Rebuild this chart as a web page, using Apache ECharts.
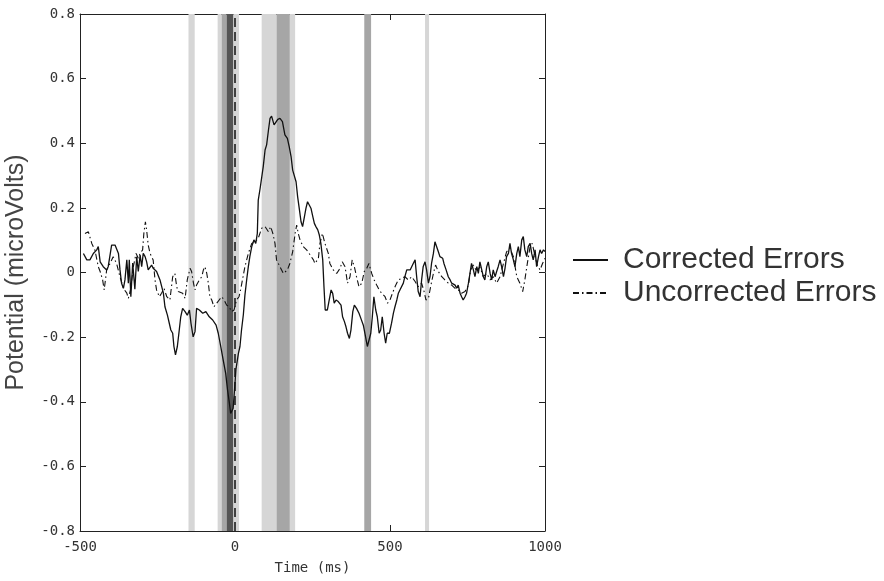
<!DOCTYPE html>
<html>
<head>
<meta charset="utf-8">
<script src="https://cdn.jsdelivr.net/npm/echarts@6/dist/echarts.min.js"></script>
<style>html,body{margin:0;padding:0;background:#fff;}#c{width:884px;height:581px;}</style>
</head>
<body>
<div id="c"></div>
<script>
const seriesNames = ['Corrected Errors', 'Uncorrected Errors'];
const xTicks = [-500, 0, 500, 1000];
const yTicks = [-0.8, -0.6, -0.4, -0.2, 0, 0.2, 0.4, 0.6, 0.8];

const correctedT = [-489,-478,-468,-457,-446,-441,-435,-425,-414,-409,-398,-387,-382,-376,-371,-366,-360,-355,-349,-344,-341,-336,-330,-323,-317,-312,-306,-301,-296,-290,-285,-280,-274,-269,-264,-253,-242,-231,-226,-218,-212,-207,-201,-197,-192,-186,-181,-175,-169,-161,-154,-147,-142,-135,-129,-124,-115,-104,-94,-83,-72,-61,-54,-46,-38,-30,-24,-18,-14,-10,-6,-2,3,11,16,21,27,32,38,43,48,54,61,67,72,75,81,86,91,97,102,108,113,118,126,131,138,145,153,161,169,175,181,186,191,197,202,208,213,218,224,229,234,240,245,251,256,261,267,272,277,283,287,291,298,304,310,315,320,326,333,342,347,353,358,363,369,374,380,385,392,400,406,414,420,427,432,438,443,448,454,459,465,470,475,481,486,491,498,505,511,516,522,527,532,538,543,548,554,559,565,570,575,581,586,591,597,602,607,613,618,624,629,634,640,645,651,656,661,670,674,681,688,694,699,704,710,715,720,726,731,736,742,747,753,758,763,769,774,780,785,790,796,801,806,812,817,823,828,833,839,844,849,855,860,866,871,876,882,887,892,898,903,909,914,919,925,930,935,941,946,952,957,962,968,973,979,984,989,995,1000];
const correctedV = [0.059,0.039,0.039,0.059,0.070,0.080,0.033,0.018,0.008,0.018,0.085,0.085,0.080,0.059,0.008,-0.033,-0.049,-0.023,0.039,-0.033,0.039,-0.075,0.029,-0.052,0.049,0.003,0.054,0.018,0.059,0.049,0.033,0.008,0.013,0.023,0.013,0.003,-0.023,-0.064,-0.106,-0.132,-0.157,-0.178,-0.188,-0.229,-0.255,-0.229,-0.188,-0.137,-0.111,-0.121,-0.132,-0.116,-0.157,-0.199,-0.183,-0.111,-0.116,-0.126,-0.121,-0.137,-0.147,-0.163,-0.188,-0.229,-0.271,-0.312,-0.364,-0.405,-0.436,-0.44,-0.42,-0.37,-0.30,-0.25,-0.229,-0.178,-0.13,-0.07,-0.02,0.018,0.05,0.080,0.101,0.090,0.121,0.224,0.260,0.265,0.327,0.379,0.395,0.441,0.477,0.484,0.457,0.46,0.474,0.477,0.467,0.426,0.415,0.389,0.358,0.317,0.322,0.281,0.235,0.193,0.157,0.142,0.173,0.199,0.219,0.219,0.199,0.173,0.152,0.142,0.132,0.116,0.09,0.039,-0.044,-0.116,-0.116,-0.085,-0.054,-0.064,-0.095,-0.085,-0.090,-0.101,-0.137,-0.152,-0.168,-0.188,-0.204,-0.178,-0.121,-0.101,-0.111,-0.126,-0.142,-0.163,-0.193,-0.229,-0.229,-0.188,-0.137,-0.075,-0.116,-0.137,-0.188,-0.178,-0.137,-0.188,-0.219,-0.188,-0.188,-0.157,-0.126,-0.106,-0.085,-0.064,-0.054,-0.049,-0.033,-0.013,0.008,0.013,0.008,0.018,0.028,0.039,-0.013,-0.059,-0.075,-0.023,0.018,0.033,0.008,-0.033,-0.013,0.028,0.059,0.095,0.095,0.064,0.049,0.044,0.028,0.008,-0.013,-0.023,-0.033,-0.028,-0.039,-0.049,-0.039,-0.064,-0.075,-0.085,-0.075,-0.064,-0.033,-0.003,0.028,0.008,-0.013,0.018,-0.003,0.033,0.008,-0.013,-0.023,0.018,0.033,-0.003,-0.023,0.008,-0.013,0.003,0.018,0.039,0.018,-0.013,0.013,0.049,0.059,0.090,0.059,0.039,0.018,0.059,0.080,0.049,0.101,0.111,0.070,0.049,0.080,0.090,0.059,0.039,0.070,0.018,0.049,0.070,0.059,0.070,0.065];

const uncorrectedT = [-484,-473,-462,-452,-441,-435,-427,-422,-414,-403,-393,-382,-371,-360,-349,-344,-336,-328,-319,-312,-306,-298,-294,-289,-285,-280,-274,-264,-258,-253,-244,-237,-229,-220,-210,-201,-194,-188,-183,-177,-169,-161,-154,-145,-140,-134,-129,-124,-115,-107,-102,-97,-91,-86,-81,-75,-68,-59,-51,-43,-35,-27,-19,-11,-3,5,13,18,32,43,54,65,75,86,97,108,115,122,129,134,145,156,161,169,177,186,194,199,204,210,220,231,242,253,258,269,274,282,290,301,306,317,328,339,346,355,363,371,378,385,392,400,409,417,425,432,441,449,457,465,473,484,492,500,508,518,527,538,548,559,570,581,591,602,610,616,624,631,640,647,656,667,677,688,699,710,720,731,742,753,760,769,780,790,801,812,823,833,844,855,866,876,887,898,909,919,928,935,943,952,959,968,975,984,992,1000];
const uncorrectedV = [0.121,0.126,0.09,0.070,0.018,0.003,-0.023,-0.054,0.008,0.028,0.049,0.028,-0.013,-0.049,-0.064,-0.080,-0.049,0.018,0.059,0.044,0.059,0.070,0.121,0.157,0.131,0.085,0.059,0.039,-0.023,-0.054,-0.075,-0.064,-0.049,-0.075,-0.085,-0.013,-0.003,-0.044,-0.059,-0.054,-0.064,-0.080,-0.023,0.013,0.003,-0.033,-0.054,-0.039,-0.023,-0.013,0.008,0.018,-0.003,-0.033,-0.075,-0.085,-0.106,-0.095,-0.085,-0.075,-0.085,-0.101,-0.106,-0.121,-0.116,-0.085,-0.075,-0.054,0.018,0.059,0.09,0.095,0.106,0.137,0.142,0.126,0.142,0.121,0.09,0.039,0.018,-0.003,-0.008,0.008,0.028,0.064,0.121,0.147,0.121,0.1,0.08,0.070,0.055,0.039,0.028,0.044,0.09,0.121,0.09,0.059,0.028,0.008,-0.003,0.013,0.033,0.018,-0.033,-0.013,0.039,0.018,-0.013,-0.044,-0.033,0.003,0.013,0.028,-0.003,-0.023,-0.039,-0.054,-0.064,-0.075,-0.095,-0.085,-0.064,-0.04,-0.023,-0.018,-0.013,-0.023,-0.013,-0.028,-0.044,-0.033,-0.059,-0.085,-0.080,-0.044,-0.003,0.023,0.003,-0.013,-0.023,-0.033,-0.039,-0.049,-0.054,-0.064,-0.059,-0.039,0.008,0.023,0.003,0.018,-0.013,-0.003,-0.023,-0.013,-0.033,-0.013,0.028,0.064,0.075,0.049,-0.013,-0.033,-0.059,-0.023,0.028,0.080,0.090,0.049,0.023,0.008,0.028,0.044];

// Significance bands: [start ms, end ms, shade level]
const bandStart = [-150, -56, -43, -27, -5, 86, 134, 177, 417, 613];
const bandEnd   = [-130, -43, -27, -5, 13, 134, 177, 194, 439, 626];
const bandShade = ['light','light','medium','dark','light','light','medium','light','medium','light'];

const shadeColor = {light: '#d6d6d6', medium: '#a6a6a6', dark: '#555555'};
const zip = (t, v) => t.map((x, i) => [x, v[i]]);

const monoFont = 'DejaVu Sans Mono';
const axisCol = '#222';

const chart = echarts.init(document.getElementById('c'), null, {renderer: 'canvas'});
chart.setOption({
  animation: false,
  backgroundColor: '#fff',
  grid: {left: 80, right: 339, top: 14, bottom: 50, containLabel: false, outerBoundsMode: 'none'},
  legend: {
    data: seriesNames,
    orient: 'vertical',
    left: 572,
    top: 245,
    padding: 0,
    itemWidth: 35,
    itemHeight: 14,
    itemGap: 3,
    itemStyle: {opacity: 0},
    textStyle: {fontFamily: 'Liberation Sans', fontSize: 30, color: '#333', padding: [0, 0, 0, 10]}
  },
  xAxis: [{
    type: 'value', min: xTicks[0], max: xTicks[xTicks.length - 1], interval: 500,
    position: 'bottom',
    name: 'Time (ms)', nameLocation: 'middle', nameGap: 30,
    nameTextStyle: {fontFamily: monoFont, fontSize: 14, color: '#333'},
    axisLine: {show: true, onZero: false, lineStyle: {color: axisCol, width: 1}},
    axisTick: {show: true, inside: true, length: 6, lineStyle: {color: axisCol}},
    axisLabel: {fontFamily: monoFont, fontSize: 14, color: '#333', margin: 9,
      formatter: v => String(v)},
    splitLine: {show: false}
  }, {
    type: 'value', min: xTicks[0], max: xTicks[xTicks.length - 1], interval: 500,
    position: 'top',
    axisLine: {show: true, onZero: false, lineStyle: {color: axisCol, width: 1}},
    axisTick: {show: true, inside: true, length: 6, lineStyle: {color: axisCol}},
    axisLabel: {show: false},
    splitLine: {show: false}
  }],
  yAxis: [{
    type: 'value', min: yTicks[0], max: yTicks[yTicks.length - 1], interval: 0.2,
    position: 'left',
    name: 'Potential (microVolts)', nameLocation: 'middle', nameGap: 51, nameRotate: 90,
    nameTextStyle: {fontFamily: 'Liberation Sans', fontSize: 25, color: '#444'},
    axisLine: {show: true, onZero: false, lineStyle: {color: axisCol, width: 1}},
    axisTick: {show: true, inside: true, length: 6, lineStyle: {color: axisCol}},
    axisLabel: {fontFamily: monoFont, fontSize: 14, color: '#333', margin: 5,
      formatter: v => String(Math.round(v * 10) / 10)},
    splitLine: {show: false}
  }, {
    type: 'value', min: yTicks[0], max: yTicks[yTicks.length - 1], interval: 0.2,
    position: 'right',
    axisLine: {show: true, onZero: false, lineStyle: {color: axisCol, width: 1}},
    axisTick: {show: true, inside: true, length: 6, lineStyle: {color: axisCol}},
    axisLabel: {show: false},
    splitLine: {show: false}
  }],
  series: [{
    name: 'bands',
    type: 'line',
    data: [],
    z: 1,
    silent: true,
    markArea: {
      silent: true,
      data: bandStart.map((s, i) => [
        {xAxis: s, itemStyle: {color: shadeColor[bandShade[i]], opacity: 1}},
        {xAxis: bandEnd[i]}
      ])
    }
  }, {
    name: 'zero',
    type: 'line',
    data: [],
    z: 2,
    silent: true,
    markLine: {
      silent: true,
      symbol: ['none', 'none'],
      label: {show: false},
      lineStyle: {color: '#111', width: 1.5, type: [9, 5]},
      data: [{xAxis: 0}]
    }
  }, {
    name: seriesNames[0],
    type: 'line',
    data: zip(correctedT, correctedV),
    showSymbol: false,
    symbol: 'none',
    z: 4,
    color: '#111',
    lineStyle: {color: '#111', width: 1.3, type: 'solid'}
  }, {
    name: seriesNames[1],
    type: 'line',
    data: zip(uncorrectedT, uncorrectedV),
    showSymbol: false,
    symbol: 'none',
    z: 3,
    color: '#111',
    lineStyle: {color: '#111', width: 1.1, type: [6, 3, 1.5, 3]}
  }]
});
</script>
</body>
</html>
